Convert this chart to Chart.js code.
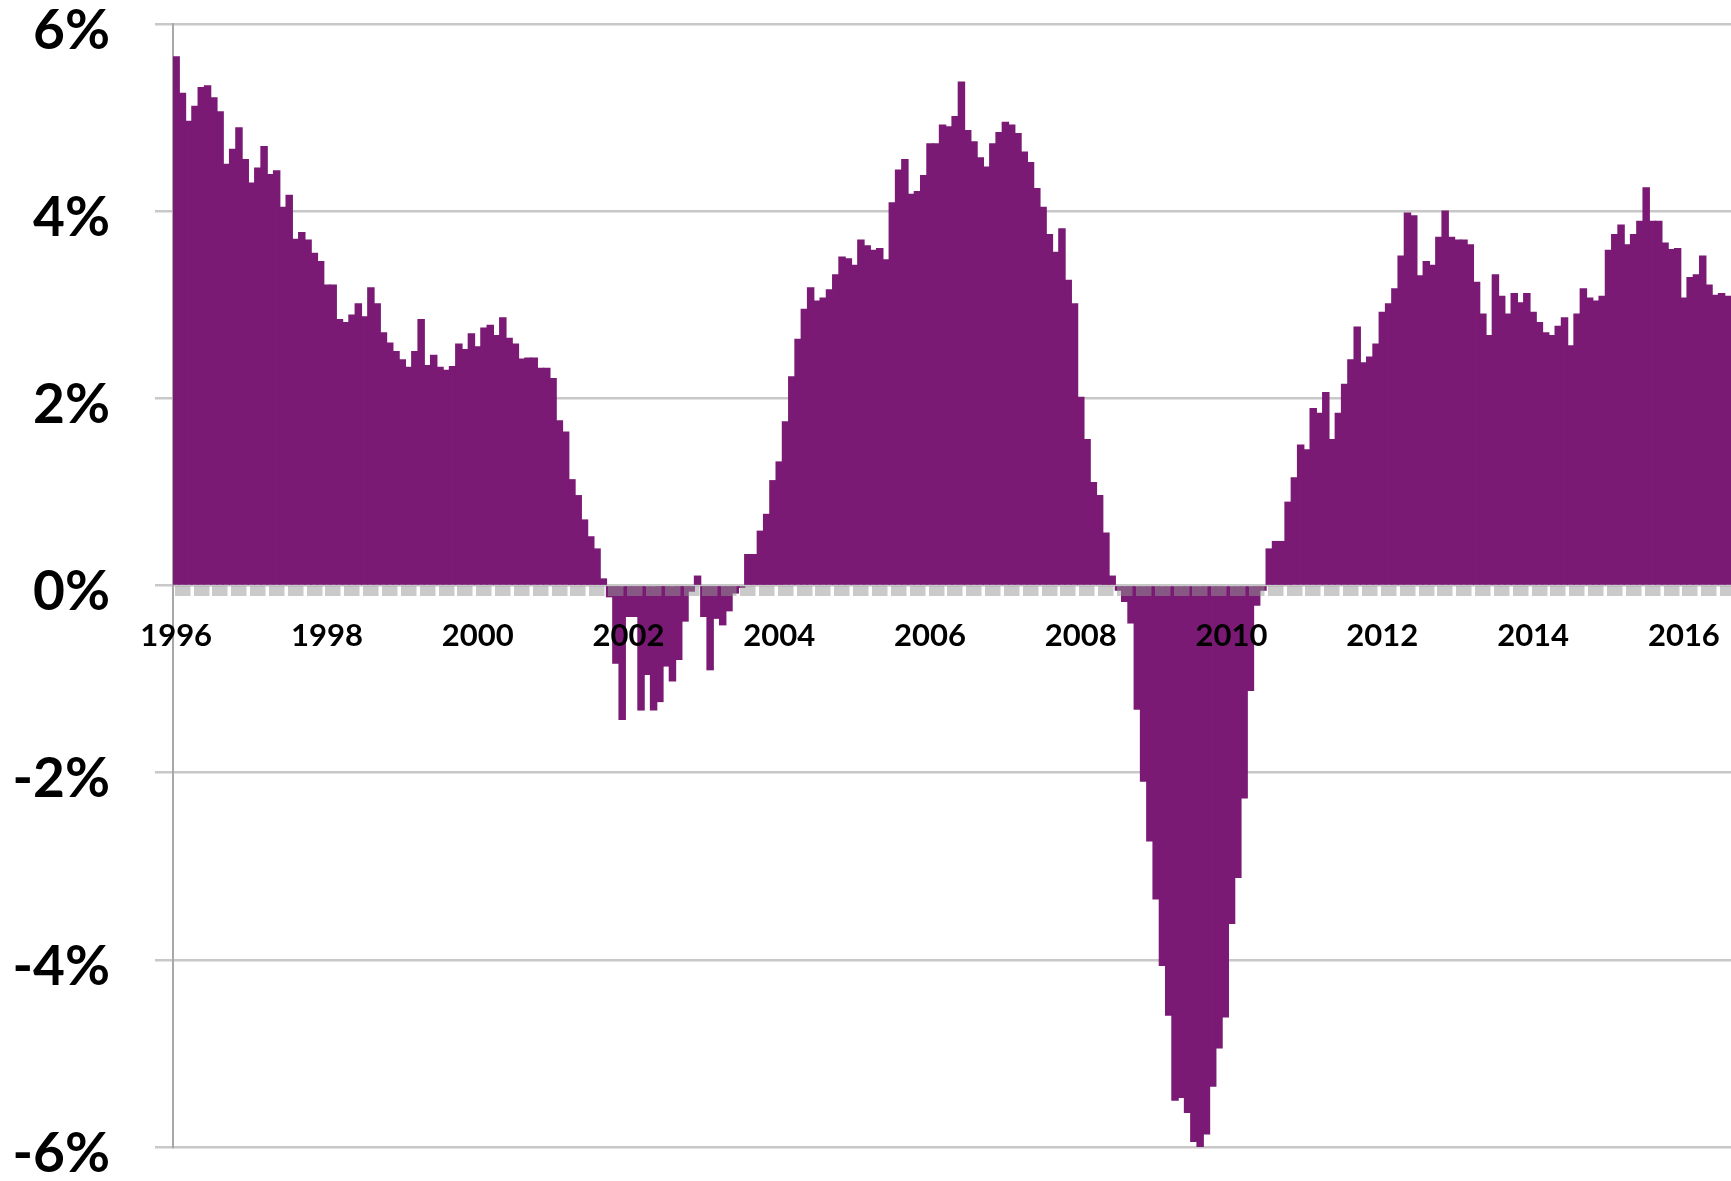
<!DOCTYPE html>
<html>
<head>
<meta charset="utf-8">
<title>Monthly change, 1996-2016</title>
<script src="https://cdn.jsdelivr.net/npm/chart.js@4/dist/chart.umd.min.js"></script>
<style>
  html, body { margin: 0; padding: 0; background: #fff; }
  canvas { display: block; }
</style>
</head>
<body>
<canvas id="chart" width="1731" height="1181"></canvas>
<script>
  // monthly values, Jan 1996 .. Aug 2016 (percent)
  const START_YEAR = 1996;
  const VALUES = [
    5.65, 5.26, 4.96, 5.12, 5.32, 5.34, 5.21, 5.06, 4.50, 4.66, 4.89, 4.55,       // 1996
    4.30, 4.46, 4.69, 4.39, 4.43, 4.04, 4.17, 3.70, 3.77, 3.69, 3.55, 3.46,       // 1997
    3.21, 3.21, 2.84, 2.81, 2.89, 3.01, 2.87, 3.18, 3.01, 2.70, 2.59, 2.50,       // 1998
    2.41, 2.33, 2.50, 2.84, 2.35, 2.46, 2.33, 2.30, 2.34, 2.58, 2.52, 2.69,       // 1999
    2.55, 2.75, 2.78, 2.67, 2.86, 2.64, 2.58, 2.42, 2.43, 2.43, 2.32, 2.32,       // 2000
    2.21, 1.76, 1.64, 1.13, 0.96, 0.70, 0.52, 0.39, 0.07, -0.12, -0.83, -1.43,    // 2001
    -0.33, -0.33, -1.33, -0.95, -1.33, -1.24, -0.86, -1.02, -0.79, -0.38, -0.06, 0.10, // 2002
    -0.33, -0.90, -0.35, -0.42, -0.27, -0.08, -0.02, 0.33, 0.33, 0.58, 0.76, 1.12, // 2003
    1.32, 1.75, 2.23, 2.63, 2.95, 3.18, 3.04, 3.07, 3.16, 3.32, 3.51, 3.49,       // 2004
    3.42, 3.69, 3.63, 3.58, 3.60, 3.48, 4.09, 4.44, 4.55, 4.18, 4.21, 4.38,       // 2005
    4.72, 4.72, 4.92, 4.90, 5.01, 5.38, 4.86, 4.74, 4.57, 4.47, 4.72, 4.84,       // 2006
    4.95, 4.92, 4.83, 4.63, 4.52, 4.24, 4.04, 3.75, 3.56, 3.81, 3.26, 3.01,       // 2007
    2.01, 1.56, 1.10, 0.96, 0.56, 0.10, -0.05, -0.17, -0.40, -1.32, -2.09, -2.73, // 2008
    -3.35, -4.06, -4.59, -5.50, -5.47, -5.63, -5.94, -6.00, -5.86, -5.35, -4.94, -4.61, // 2009
    -3.61, -3.12, -2.27, -1.12, -0.21, -0.05, 0.39, 0.47, 0.47, 0.89, 1.15, 1.50, // 2010
    1.45, 1.89, 1.84, 2.06, 1.56, 1.84, 2.15, 2.41, 2.76, 2.38, 2.44, 2.58,       // 2011
    2.92, 3.01, 3.17, 3.52, 3.98, 3.95, 3.31, 3.46, 3.42, 3.72, 4.00, 3.72,       // 2012
    3.69, 3.69, 3.64, 3.24, 2.90, 2.67, 3.32, 3.09, 2.90, 3.12, 3.02, 3.12,       // 2013
    2.92, 2.81, 2.70, 2.67, 2.77, 2.86, 2.56, 2.90, 3.17, 3.07, 3.04, 3.09,       // 2014
    3.58, 3.75, 3.85, 3.64, 3.75, 3.89, 4.25, 3.89, 3.89, 3.66, 3.59, 3.60,       // 2015
    3.07, 3.29, 3.32, 3.52, 3.21, 3.10, 3.12, 3.09                                // 2016
  ];
  const TICK_YEARS = ["1996", "1998", "2000", "2002", "2004", "2006", "2008", "2010", "2012", "2014", "2016"];
  const Y_TICKS = [-6, -4, -2, 0, 2, 4, 6];

  const MONTHS = VALUES.map((_, i) => {
    const y = START_YEAR + Math.floor(i / 12);
    const m = (i % 12) + 1;
    return y + "-" + String(m).padStart(2, "0");
  });

  const PURPLE = "#7a1a74";
  const GRID = "#c8c8c8";

  function zeroPadding(scale) {
    scale.paddingTop = 0;
    scale.paddingBottom = 0;
    scale.paddingLeft = 0;
    scale.paddingRight = 0;
  }

  new Chart(document.getElementById("chart").getContext("2d"), {
    type: "bar",
    data: {
      labels: MONTHS,
      datasets: [{
        data: VALUES,
        backgroundColor: PURPLE,
        borderWidth: 0,
        barPercentage: 1,
        categoryPercentage: 1,
        inflateAmount: 0.6,
      }],
    },
    options: {
      responsive: false,
      animation: false,
      devicePixelRatio: 1,
      layout: { padding: { top: 24, bottom: 34, left: 0, right: 0 } },
      plugins: { legend: { display: false }, tooltip: { enabled: false } },
      scales: {
        x: {
          type: "category",
          position: { y: 0 },
          border: { display: false },
          // the quarter tick strip and the year labels sit on top of the bars
          grid: {
            z: 1,
            display: true,
            drawOnChartArea: false,
            drawTicks: true,
            tickLength: 10,
            offset: false,
            lineWidth: 15.5,
            color: (ctx) => (ctx.index % 3 === 1 ? "rgba(150,150,150,0.5)" : "rgba(0,0,0,0)"),
          },
          ticks: {
            z: 2,
            autoSkip: false,
            maxRotation: 0,
            minRotation: 0,
            padding: 22,
            color: "#000",
            font: { family: "Lato", weight: "bold", size: 31 },
            callback: (val, idx) => (idx % 24 === 0 ? TICK_YEARS[idx / 24] : ""),
          },
          afterFit: zeroPadding,
        },
        y: {
          min: Y_TICKS[0],
          max: Y_TICKS[Y_TICKS.length - 1],
          border: { display: true, color: "#a8a8a8", width: 2 },
          grid: { color: GRID, lineWidth: 2.5, tickLength: 18, drawTicks: true },
          ticks: {
            stepSize: 2,
            padding: 45,
            labelOffset: 7,
            color: "#000",
            font: { family: "Lato", weight: "bold", size: 55 },
            callback: (v) => v + "%",
          },
          afterFit: (scale) => {
            scale.width = 173;
            zeroPadding(scale);
          },
        },
      },
    },
  });
</script>
</body>
</html>
